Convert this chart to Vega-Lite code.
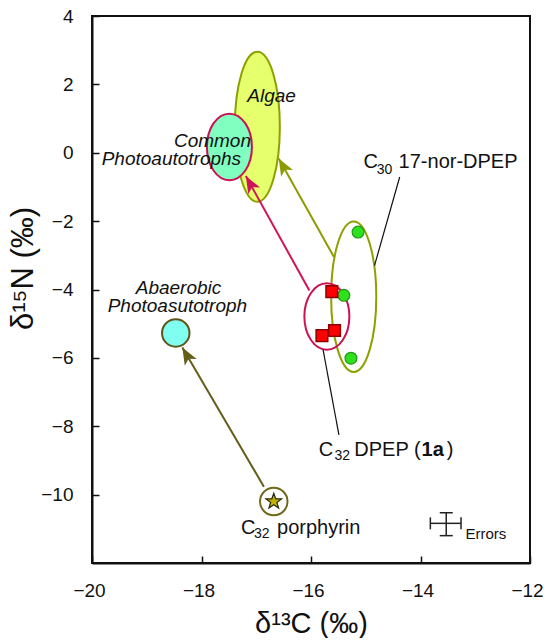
{
  "$schema": "https://vega.github.io/schema/vega-lite/v6.json",
  "width": 438,
  "height": 547,
  "padding": {"left": 7, "top": 7, "right": 0, "bottom": 0},
  "background": "white",
  "config": {
    "font": "Liberation Sans",
    "view": {"stroke": "#111", "strokeWidth": 2},
    "axis": {
      "grid": false, "domainColor": "#111", "domainWidth": 2,
      "tickColor": "#111", "tickWidth": 1.5, "tickSize": -7,
      "labelFontSize": 19, "labelColor": "#111", "labelFlush": false, "labelOverlap": false,
      "labelFont": "Liberation Sans",
      "titleFont": "Liberation Sans", "titleFontSize": 28, "titleFontWeight": "normal", "titleColor": "#111"
    }
  },
  "datasets": {
    "regions": [
      {"region": "Algae", "x": -16.98, "y": 0.76},
      {"region": "Common photoautotrophs", "x": -17.49, "y": 0.17},
      {"region": "Anaerobic photoautotroph", "x": -18.47, "y": -5.27},
      {"region": "C32 DPEP", "x": -15.71, "y": -4.79},
      {"region": "C30 17-nor-DPEP", "x": -15.22, "y": -4.21},
      {"region": "C32 porphyrin", "x": -16.68, "y": -10.2}
    ],
    "samples": [
      {"compound": "C30 17-nor-DPEP", "x": -15.14, "y": -2.32},
      {"compound": "C30 17-nor-DPEP", "x": -15.4, "y": -4.17},
      {"compound": "C30 17-nor-DPEP", "x": -15.27, "y": -6.01},
      {"compound": "C32 DPEP", "x": -15.62, "y": -4.06},
      {"compound": "C32 DPEP", "x": -15.57, "y": -5.2},
      {"compound": "C32 DPEP", "x": -15.8, "y": -5.35},
      {"compound": "C32 porphyrin", "x": -16.68, "y": -10.2}
    ],
    "arrows": [
      {"compound": "C32 DPEP", "x": -17.19, "y": -0.68, "x2": -16.03, "y2": -4.03},
      {"compound": "C30 17-nor-DPEP", "x": -16.59, "y": -0.17, "x2": -15.58, "y2": -3.05},
      {"compound": "C32 porphyrin", "x": -18.35, "y": -5.7, "x2": -16.86, "y2": -9.77}
    ],
    "leaders": [
      {"label": "C30 17-nor-DPEP", "x": -14.38, "y": -0.71, "x2": -14.84, "y2": -3.3},
      {"label": "C32 DPEP", "x": -15.78, "y": -5.76, "x2": -15.49, "y2": -8.25}
    ],
    "labels": [
      {"text": "C", "x": -15.04, "y": -0.46},
      {"text": "17-nor-DPEP", "x": -14.4, "y": -0.46},
      {"text": "C", "x": -15.86, "y": -8.87},
      {"text": "DPEP (", "x": -15.21, "y": -8.87},
      {"text": ")", "x": -13.52, "y": -8.87},
      {"text": "C", "x": -17.28, "y": -11.15},
      {"text": "porphyrin", "x": -16.62, "y": -11.15}
    ],
    "subscripts": [
      {"text": "30", "x": -14.8, "y": -0.61},
      {"text": "32", "x": -15.57, "y": -9.0},
      {"text": "32", "x": -17.04, "y": -11.28}
    ],
    "boldLabels": [
      {"text": "1a", "x": -13.98, "y": -8.87}
    ],
    "italicLabels": [
      {"text": "Algae", "x": -16.72, "y": 1.49},
      {"text": "Common", "x": -17.8, "y": 0.17},
      {"text": "Photoautotrophs", "x": -18.55, "y": -0.37},
      {"text": "Abaerobic", "x": -18.42, "y": -4.12},
      {"text": "Photoasutotroph", "x": -18.44, "y": -4.66}
    ],
    "errorNote": [
      {"text": "Errors", "x": -13.18, "y": -11.3}
    ],
    "errorBars": [
      {"bar": "carbon", "x": -13.82, "x2": -13.26, "y": -10.84, "y2": -10.84},
      {"bar": "nitrogen", "x": -13.53, "x2": -13.53, "y": -10.53, "y2": -11.2}
    ],
    "capsCarbon": [
      {"x": -13.82, "y": -10.84},
      {"x": -13.26, "y": -10.84}
    ],
    "capsNitrogen": [
      {"x": -13.53, "y": -10.53},
      {"x": -13.53, "y": -11.2}
    ]
  },
  "encoding": {
    "x": {
      "field": "x", "type": "quantitative",
      "scale": {"domain": [-20, -12], "nice": false, "zero": false},
      "axis": {"title": "δ¹³C (‰)", "values": [-20, -18, -16, -14, -12], "labelPadding": 25, "labelOffset": -3, "titlePadding": 9, "titleFontSize": 29}
    },
    "y": {
      "field": "y", "type": "quantitative",
      "scale": {"domain": [-12, 4], "nice": false, "zero": false},
      "axis": {"title": "δ¹⁵N (‰)", "values": [-10, -8, -6, -4, -2, 0, 2, 4], "labelPadding": 26, "titlePadding": 1, "titleFontSize": 31, "titleY": 252}
    }
  },
  "layer": [
    {
      "data": {"name": "regions"},
      "transform": [{"filter": "datum.region == 'Algae'"}],
      "mark": {"type": "point", "shape": "M0.3,0C0.3,0.5523,0.1657,1,0,1C-0.1657,1,-0.3,0.5523,-0.3,0C-0.3,-0.5523,-0.1657,-1,0,-1C0.1657,-1,0.3,-0.5523,0.3,0Z", "size": 22500, "filled": true, "fill": "#e6ff6c", "stroke": "#8ea000", "strokeWidth": 2, "opacity": 1}
    },
    {
      "data": {"name": "regions"},
      "transform": [{"filter": "datum.region == 'C30 17-nor-DPEP'"}],
      "mark": {"type": "point", "shape": "M0.3,0C0.3,0.5523,0.1657,1,0,1C-0.1657,1,-0.3,0.5523,-0.3,0C-0.3,-0.5523,-0.1657,-1,0,-1C0.1657,-1,0.3,-0.5523,0.3,0Z", "size": 22650, "filled": false, "stroke": "#8ea000", "strokeWidth": 2, "opacity": 1}
    },
    {
      "data": {"name": "regions"},
      "transform": [{"filter": "datum.region == 'Common photoautotrophs'"}],
      "mark": {"type": "point", "shape": "M0.676,0C0.676,0.5523,0.3733,1,0,1C-0.3733,1,-0.676,0.5523,-0.676,0C-0.676,-0.5523,-0.3733,-1,0,-1C0.3733,-1,0.676,-0.5523,0.676,0Z", "size": 4436, "filled": true, "fill": "#80ffc0", "stroke": "#cc1155", "strokeWidth": 2, "opacity": 1}
    },
    {
      "data": {"name": "regions"},
      "transform": [{"filter": "datum.region == 'C32 DPEP'"}],
      "mark": {"type": "point", "shape": "M0.676,0C0.676,0.5523,0.3733,1,0,1C-0.3733,1,-0.676,0.5523,-0.676,0C-0.676,-0.5523,-0.3733,-1,0,-1C0.3733,-1,0.676,-0.5523,0.676,0Z", "size": 4436, "filled": false, "stroke": "#cc1155", "strokeWidth": 2, "opacity": 1}
    },
    {
      "data": {"name": "regions"},
      "transform": [{"filter": "datum.region == 'Anaerobic photoautotroph'"}],
      "mark": {"type": "point", "shape": "circle", "size": 755, "filled": true, "fill": "#80fff0", "stroke": "#5e5418", "strokeWidth": 2, "opacity": 1}
    },
    {
      "data": {"name": "regions"},
      "transform": [{"filter": "datum.region == 'C32 porphyrin'"}],
      "mark": {"type": "point", "shape": "circle", "size": 755, "filled": false, "stroke": "#6e6818", "strokeWidth": 2, "opacity": 1}
    },
    {
      "data": {"name": "arrows"},
      "mark": {"type": "rule", "strokeWidth": 2},
      "encoding": {
        "x2": {"field": "x2"},
        "y2": {"field": "y2"},
        "color": {"field": "compound", "type": "nominal", "scale": {"domain": ["C32 DPEP", "C30 17-nor-DPEP", "C32 porphyrin"], "range": ["#d0145a", "#8c9c00", "#645e1a"]}, "legend": null}
      }
    },
    {
      "data": {"name": "arrows"},
      "mark": {"type": "point", "shape": "M0,0L0.4,1L0,0.75L-0.4,1Z", "size": 1156, "angle": 330.5, "filled": true, "opacity": 1},
      "encoding": {
        "color": {"field": "compound", "type": "nominal", "legend": null}
      }
    },
    {
      "data": {"name": "leaders"},
      "mark": {"type": "rule", "strokeWidth": 1.2, "color": "#111"},
      "encoding": {"x2": {"field": "x2"}, "y2": {"field": "y2"}}
    },
    {
      "data": {"name": "samples"},
      "transform": [{"filter": "datum.compound == 'C30 17-nor-DPEP'"}],
      "mark": {"type": "point", "shape": "circle", "size": 140, "filled": true, "fill": "#2ee01e", "stroke": "#1f9a14", "strokeWidth": 1.2, "opacity": 1}
    },
    {
      "data": {"name": "samples"},
      "transform": [{"filter": "datum.compound == 'C32 DPEP'"}],
      "mark": {"type": "point", "shape": "square", "size": 136, "filled": true, "fill": "#ff0000", "stroke": "#8e0000", "strokeWidth": 1.5, "opacity": 1}
    },
    {
      "data": {"name": "samples"},
      "transform": [{"filter": "datum.compound == 'C32 porphyrin'"}],
      "mark": {"type": "point", "shape": "M0,-1L0.235,-0.324L0.951,-0.309L0.38,0.124L0.588,0.809L0,0.4L-0.588,0.809L-0.38,0.124L-0.951,-0.309L-0.235,-0.324Z", "size": 270, "filled": true, "fill": "#c2b200", "stroke": "#2a2a10", "strokeWidth": 1.2, "opacity": 1}
    },
    {
      "data": {"name": "errorBars"},
      "mark": {"type": "rule", "strokeWidth": 1.5, "color": "#222"},
      "encoding": {"x2": {"field": "x2"}, "y2": {"field": "y2"}}
    },
    {
      "data": {"name": "capsCarbon"},
      "mark": {"type": "tick", "orient": "vertical", "size": 12, "thickness": 1.5, "color": "#222", "opacity": 1}
    },
    {
      "data": {"name": "capsNitrogen"},
      "mark": {"type": "tick", "orient": "horizontal", "size": 13, "thickness": 1.5, "color": "#222", "opacity": 1}
    },
    {
      "data": {"name": "labels"},
      "mark": {"type": "text", "align": "left", "baseline": "alphabetic", "fontSize": 20, "color": "#111"},
      "encoding": {"text": {"field": "text"}}
    },
    {
      "data": {"name": "subscripts"},
      "mark": {"type": "text", "align": "left", "baseline": "alphabetic", "fontSize": 14, "color": "#111"},
      "encoding": {"text": {"field": "text"}}
    },
    {
      "data": {"name": "boldLabels"},
      "mark": {"type": "text", "align": "left", "baseline": "alphabetic", "fontSize": 20, "fontWeight": "bold", "color": "#111"},
      "encoding": {"text": {"field": "text"}}
    },
    {
      "data": {"name": "italicLabels"},
      "mark": {"type": "text", "align": "center", "baseline": "alphabetic", "fontSize": 19, "fontStyle": "italic", "font": "Liberation Sans", "color": "#111"},
      "encoding": {"text": {"field": "text"}}
    },
    {
      "data": {"name": "errorNote"},
      "mark": {"type": "text", "align": "left", "baseline": "alphabetic", "fontSize": 15, "color": "#111"},
      "encoding": {"text": {"field": "text"}}
    }
  ]
}
